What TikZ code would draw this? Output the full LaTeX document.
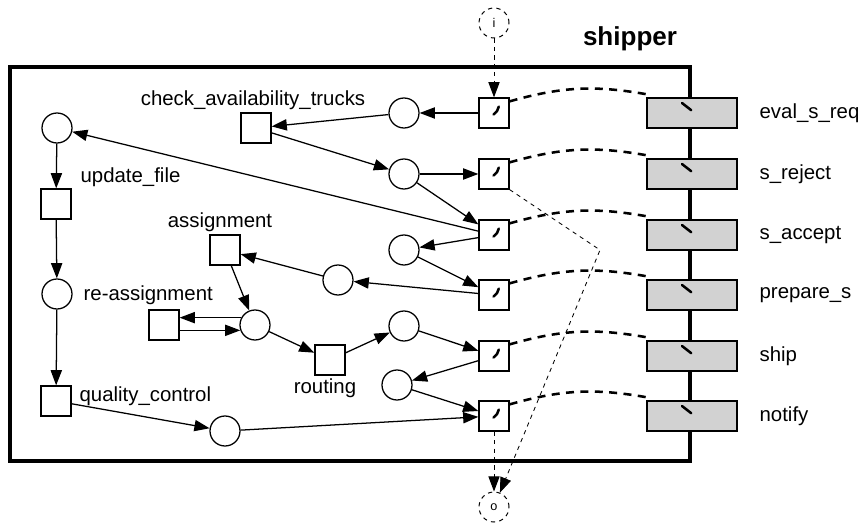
\documentclass[tikz,border=0pt]{standalone}
\usepackage{fontspec}
\setmainfont{Liberation Sans}
\usetikzlibrary{positioning, arrows.meta}

\begin{document}
\begin{tikzpicture}[
		x=0.025cm, y=-0.025cm,
		>={Triangle[length=3.8mm,width=2.8mm]},
		line width=0.9pt,
		place/.style={draw, circle, minimum size=0.75cm, inner sep=0pt},
		trans/.style={draw, rectangle, minimum size=0.75cm, inner sep=0pt},
		gate/.style={trans, path picture={\draw[line width=1.8pt, line cap=round] ([xshift=-0.01cm,yshift=-0.04cm]path picture bounding box.center) to[bend right=20] ++(0.13cm,0.2cm);}},
		port/.style={draw, rectangle, line width=2pt, fill=gray!35, minimum width=2.25cm, minimum height=0.75cm, inner sep=0pt, path picture={\draw[line width=1.8pt, line cap=round] ([xshift=-0.25cm,yshift=0.25cm]path picture bounding box.center) -- ++(0.23cm,-0.18cm);}},
		io/.style={draw, circle, dashed, line width=0.7pt, minimum size=0.75cm, inner sep=0pt, font=\small},
		lbl/.style={font=\fontsize{14.5}{16}\selectfont, inner sep=0pt},
		link/.style={line width=1.8pt, dash pattern=on 2mm off 1.6mm},
	]
	\useasboundingbox (0,0) rectangle (859,523);
	\draw[line width=2.8pt] (10,67) rectangle (690,461);
	\node[font=\fontsize{18.5}{20}\selectfont\bfseries, inner sep=0pt] (title) at (630,39) {shipper};

	% interface transitions and ports
	\node[gate] (t_eval) at (494,113) {};
	\node[gate] (t_reject) at (494,174) {};
	\node[gate] (t_accept) at (494,235) {};
	\node[gate] (t_prepare) at (494,295) {};
	\node[gate] (t_ship) at (494,356) {};
	\node[gate] (t_notify) at (494,416) {};

	\node[port] (p_eval) at (692,113) {};
	\node[port] (p_reject) at (692,174) {};
	\node[port] (p_accept) at (692,235) {};
	\node[port] (p_prepare) at (692,295) {};
	\node[port] (p_ship) at (692,356) {};
	\node[port] (p_notify) at (692,416) {};

	\node[lbl, anchor=west] (l_eval) at (759,113) {eval\_s\_req};
	\node[lbl, anchor=west] (l_reject) at (759,174) {s\_reject};
	\node[lbl, anchor=west] (l_accept) at (759,235) {s\_accept};
	\node[lbl, anchor=west] (l_prepare) at (759,295) {prepare\_s};
	\node[lbl, anchor=west] (l_ship) at (759,356) {ship};
	\node[lbl, anchor=west] (l_notify) at (759,416) {notify};

	\draw[link] ([yshift=-0.1cm]t_eval.north east) to[bend left=13] ([xshift=0.07cm,yshift=0.05cm]p_eval.north west);
	\draw[link] ([yshift=-0.1cm]t_reject.north east) to[bend left=13] ([xshift=0.07cm,yshift=0.05cm]p_reject.north west);
	\draw[link] ([yshift=-0.1cm]t_accept.north east) to[bend left=13] ([xshift=0.07cm,yshift=0.05cm]p_accept.north west);
	\draw[link] ([yshift=-0.1cm]t_prepare.north east) to[bend left=13] ([xshift=0.07cm,yshift=0.05cm]p_prepare.north west);
	\draw[link] ([yshift=-0.1cm]t_ship.north east) to[bend left=13] ([xshift=0.07cm,yshift=0.05cm]p_ship.north west);
	\draw[link] ([yshift=-0.1cm]t_notify.north east) to[bend left=13] ([xshift=0.07cm,yshift=0.05cm]p_notify.north west);

	% places
	\node[place] (avail) at (404,113) {};
	\node[place] (checked) at (404,174) {};
	\node[place] (accepted) at (404,250) {};
	\node[place] (prepared) at (338,280) {};
	\node[place] (assigned) at (255,325) {};
	\node[place] (routed) at (404,326) {};
	\node[place] (shipped) at (397,385) {};
	\node[place] (to_file) at (57,128) {};
	\node[place] (filed) at (57,294) {};
	\node[place] (controlled) at (225,431) {};

	% internal transitions
	\node[trans] (check_trucks) at (256,128) {};
	\node[trans] (update_file) at (56,204) {};
	\node[trans] (assignment) at (225,250) {};
	\node[trans] (reassignment) at (164,325) {};
	\node[trans] (routing) at (330,360) {};
	\node[trans] (quality_control) at (56,401) {};

	\node[lbl] (l_check) at (253,100) {check\_availability\_trucks};
	\node[lbl, anchor=west] (l_update) at (80,177) {update\_file};
	\node[lbl] (l_assign) at (220,222) {assignment};
	\node[lbl, anchor=west] (l_reassign) at (83,295) {re-assignment};
	\node[lbl] (l_routing) at (325,388) {routing};
	\node[lbl, anchor=west] (l_quality) at (79,396) {quality\_control};

	% environment
	\node[io] (in) at (494,23) {i};
	\node[io] (out) at (494,507) {o};
	\coordinate (bend_pt) at (600,250);

	\draw[->] (t_eval) -- (avail);
	\draw[->] (avail) -- (check_trucks);
	\draw[->] (check_trucks) -- (checked);
	\draw[->] (checked) -- (t_reject);
	\draw[->] (checked) -- (t_accept);
	\draw[->] (t_accept) -- (to_file);
	\draw[->] (t_accept) -- (accepted);
	\draw[->] (accepted) -- (t_prepare);
	\draw[->] (t_prepare) -- (prepared);
	\draw[->] (prepared) -- (assignment);
	\draw[->] (assignment) -- (assigned);
	\draw[->] (assigned.152) -- (assigned.152 -| reassignment.east);
	\draw[->] (reassignment.east |- assigned.200) -- (assigned.200);
	\draw[->] (assigned) -- (routing);
	\draw[->] (routing) -- (routed);
	\draw[->] (routed) -- (t_ship);
	\draw[->] (t_ship) -- (shipped);
	\draw[->] (shipped) -- (t_notify);
	\draw[->] (to_file) -- (update_file);
	\draw[->] (update_file) -- (filed);
	\draw[->] (filed) -- (quality_control);
	\draw[->] (quality_control) -- (controlled);
	\draw[->] (controlled) -- (t_notify);

	\draw[->, dashed, line width=0.7pt] (in) -- (t_eval);
	\draw[->, dashed, line width=0.7pt] (t_notify) -- (out);
	\draw[->, dashed, line width=0.6pt] (t_reject.south east) -- (bend_pt) -- (out);
\end{tikzpicture}
\end{document}
